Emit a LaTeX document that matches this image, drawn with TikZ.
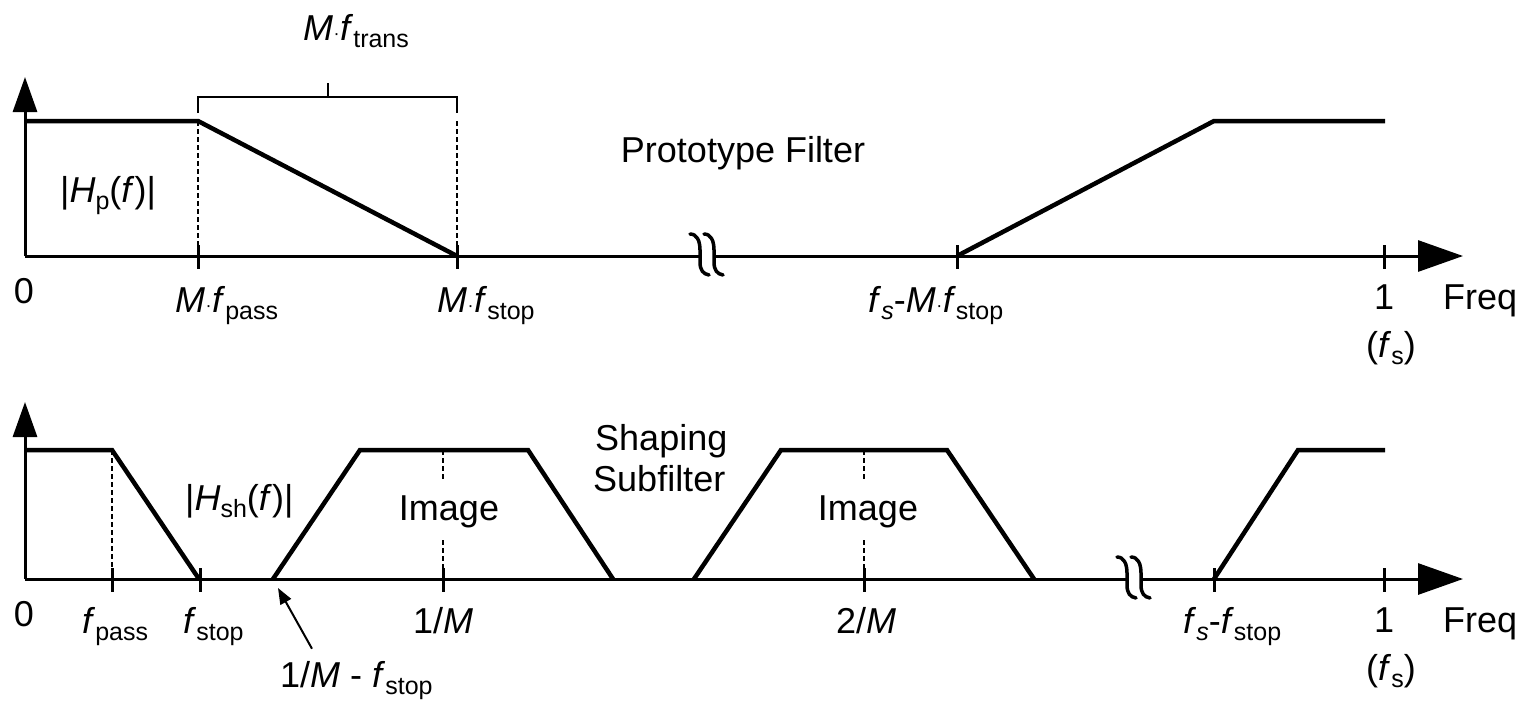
\documentclass[tikz,border=0pt]{standalone}
\usepackage{fontspec}
\setmainfont{Liberation Sans}
\usetikzlibrary{arrows.meta}
\newcommand\sbs[1]{\raisebox{-7pt}{\fontsize{25}{25}\selectfont #1}}
\newcommand\md{\kern0.5pt{\fontsize{18}{18}\selectfont\raisebox{1pt}{·}}\kern0.5pt}
\newcommand\brk[2]{%
  \fill[white] (#1,{#2-3}) rectangle ({#1+14},{#2+3});
  \foreach \dx in {0,14}{%
    \draw[brkline] ({#1+\dx-10},{#2-22}) .. controls ({#1+\dx-3},{#2-22}) and ({#1+\dx},{#2-15}) .. ({#1+\dx},{#2-6}) -- ({#1+\dx},{#2+6}) .. controls ({#1+\dx},{#2+14}) and ({#1+\dx+3},{#2+18}) .. ({#1+\dx+9},{#2+19});}%
}
\begin{document}
\begin{tikzpicture}[x=1pt,y=-1pt,
  lbl/.style={inner sep=0pt, font=\fontsize{36}{40}\selectfont},
  resp/.style={line width=4.5pt, line join=miter},
  axisline/.style={line width=3pt},
  xarr/.style={axisline, -{Triangle[length=45pt,width=31pt]}},
  yarr/.style={axisline, -{Triangle[length=35pt,width=24pt]}},
  tickmark/.style={line width=3pt},
  guide/.style={line width=1.8pt, dash pattern=on 5pt off 3pt},
  bracketline/.style={line width=2.5pt},
  brkline/.style={line width=3.5pt, line cap=round},
  pointer/.style={line width=2pt, -{Triangle[length=16pt,width=12pt]}}]
\useasboundingbox (0,0) rectangle (1520,702);

% ================= TOP PANEL =================
\coordinate (tO) at (25,256);
\draw[yarr] (tO) -- (25,77);
\draw[xarr] (tO) -- (1463,256);
% ticks
\foreach \x in {198,457,957,1384} \draw[tickmark] (\x,245) -- (\x,269);
% guides
\draw[guide] (198,121) -- (198,256);
\draw[guide] (457,121) -- (457,256);
% bracket
\draw[bracketline] (198,113) -- (198,97) -- (457,97) -- (457,113);
\draw[bracketline] (328,97) -- (328,83);
% response
\draw[resp] (25,121) -- (198,121) -- (457,256);
\draw[resp] (957,256) -- (1214,121) -- (1385,121);
% break
\brk{700}{256}
% labels
\node[lbl, anchor=base west] (ftrans) at (303,40) {\textit{M}\md\textit{f}\sbs{trans}};
\node[lbl, anchor=base] (proto) at (743,162) {Prototype Filter};
\node[lbl, anchor=base west] (hp) at (60,202) {|\textit{H}\sbs{p}(\textit{f})|};
\node[lbl, anchor=base] (zt) at (24,303) {0};
\node[lbl, anchor=base west] (mfp) at (175,312) {\textit{M}\md\textit{f}\sbs{pass}};
\node[lbl, anchor=base west] (mfs) at (437,312) {\textit{M}\md\textit{f}\sbs{stop}};
\node[lbl, anchor=base west] (fsm) at (868,312) {\textit{f}\sbs{\textit{s}}-\textit{M}\md\textit{f}\sbs{stop}};
\node[lbl, anchor=base] (onet) at (1384,309) {1};
\node[lbl, anchor=base west] (freqt) at (1443,309) {Freq};
\node[lbl, anchor=base west] (fst) at (1366,357) {(\textit{f}\sbs{s})};

% ================= BOTTOM PANEL =================
\coordinate (bO) at (25,579);
\draw[yarr] (bO) -- (25,402);
\draw[xarr] (bO) -- (1463,579);
\foreach \x in {112,200,443,864,1214,1384} \draw[tickmark] (\x,568) -- (\x,592);
% guides
\draw[guide] (112,450) -- (112,579);
\draw[guide] (443,450) -- (443,481);
\draw[guide] (443,540) -- (443,579);
\draw[guide] (864,450) -- (864,481);
\draw[guide] (864,540) -- (864,579);
% response
\draw[resp] (25,450) -- (112,450) -- (199,579);
\draw[resp] (273,579) -- (360,450) -- (528,450) -- (613,579);
\draw[resp] (694,579) -- (781,450) -- (947,450) -- (1034,579);
\draw[resp] (1214,579) -- (1298,450) -- (1385,450);
% break
\brk{1127}{579}
% labels
\node[lbl, anchor=base west] (hsh) at (185,510) {|\textit{H}\sbs{sh}(\textit{f})|};
\node[lbl, anchor=base] (img1) at (449,520) {Image};
\node[lbl, anchor=base] (img2) at (868,520) {Image};
\node[lbl, anchor=base west] (shp) at (595,450) {Shaping};
\node[lbl, anchor=base west] (sub) at (593,491) {Subfilter};
\node[lbl, anchor=base] (zb) at (24,626) {0};
\node[lbl, anchor=base west] (fp) at (82,633) {\textit{f}\sbs{pass}};
\node[lbl, anchor=base west] (fsp) at (183,633) {\textit{f}\sbs{stop}};
\node[lbl, anchor=base west] (om) at (413,633) {1/\textit{M}};
\node[lbl, anchor=base] (tm) at (866,633) {2/\textit{M}};
\node[lbl, anchor=base west] (fsf) at (1183,633) {\textit{f}\sbs{\textit{s}}-\textit{f}\sbs{stop}};
\node[lbl, anchor=base] (oneb) at (1384,632) {1};
\node[lbl, anchor=base west] (freqb) at (1443,632) {Freq};
\node[lbl, anchor=base west] (fsb) at (1366,680) {(\textit{f}\sbs{s})};
\node[lbl, anchor=base west] (omf) at (280,687) {1/\textit{M} - \textit{f}\sbs{stop}};
\coordinate (ptip) at (278,588);
\draw[pointer] (omf.north west) ++(32,-12) -- (ptip);
\end{tikzpicture}
\end{document}
